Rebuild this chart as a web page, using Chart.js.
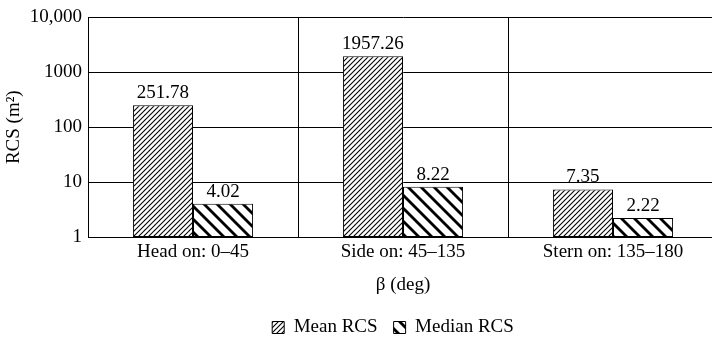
<!DOCTYPE html>
<html>
<head>
<meta charset="utf-8">
<script src="https://cdn.jsdelivr.net/npm/chart.js@4/dist/chart.umd.min.js"></script>
<style>
  html, body { margin: 0; padding: 0; background: #fff; overflow: hidden; }
  #wrap { width: 718px; height: 341px; }
</style>
</head>
<body>
<div id="wrap"><canvas id="rcs-chart"></canvas></div>
<script>
  "use strict";

  const categories = ["Head on: 0–45", "Side on: 45–135", "Stern on: 135–180"];
  const meanRcs = [251.78, 1957.26, 7.35];
  const medianRcs = [4.02, 8.22, 2.22];
  const yTicks = [1, 10, 100, 1000, 10000];
  const yTickLabels = ["1", "10", "100", "1000", "10,000"];

  const FONT = "'Liberation Serif', 'Times New Roman', serif";
  const FS = 19;

  // diagonal hatch tile: dir 1 = "/", dir -1 = "\"
  function makeHatch(period, lineWidth, dir) {
    const c = document.createElement("canvas");
    c.width = period;
    c.height = period;
    const g = c.getContext("2d");
    g.fillStyle = "#fff";
    g.fillRect(0, 0, period, period);
    g.strokeStyle = "#000";
    g.lineWidth = lineWidth;
    g.lineCap = "square";
    for (let k = -1; k <= 1; k++) {
      g.beginPath();
      if (dir > 0) {
        g.moveTo(k * period, period);
        g.lineTo(k * period + period, 0);
      } else {
        g.moveTo(k * period, 0);
        g.lineTo(k * period + period, period);
      }
      g.stroke();
    }
    return g.createPattern(c, "repeat");
  }

  const ctx = document.getElementById("rcs-chart").getContext("2d");
  const meanFill = makeHatch(5, 1.1, 1);
  const medianFill = makeHatch(13, 2.8, -1);

  const valueLabels = {
    id: "valueLabels",
    afterDatasetsDraw(chart) {
      const c = chart.ctx;
      c.save();
      c.font = FS + "px " + FONT;
      c.fillStyle = "#000";
      c.textAlign = "center";
      c.textBaseline = "alphabetic";
      chart.data.datasets.forEach((ds, i) => {
        chart.getDatasetMeta(i).data.forEach((bar, j) => {
          c.fillText(ds.data[j].toFixed(2), bar.x, bar.y - 7);
        });
      });
      c.restore();
    },
  };

  // legend sits a bit right of centre and lower in the original
  const legendShift = {
    id: "legendShift",
    afterLayout(chart) {
      const lg = chart.legend;
      if (!lg) return;
      lg.left += 34;
      lg.right += 34;
      lg.top += 6;
      lg.bottom += 6;
    },
  };

  new Chart(ctx, {
    type: "bar",
    data: {
      labels: categories,
      datasets: [
        {
          label: "Mean RCS",
          data: meanRcs,
          backgroundColor: meanFill,
          borderColor: "#000",
          borderWidth: 1,
          borderSkipped: false,
          categoryPercentage: 0.572,
          barPercentage: 1,
        },
        {
          label: "Median RCS",
          data: medianRcs,
          backgroundColor: medianFill,
          borderColor: "#000",
          borderWidth: 1,
          borderSkipped: false,
          categoryPercentage: 0.572,
          barPercentage: 1,
        },
      ],
    },
    options: {
      responsive: true,
      maintainAspectRatio: false,
      animation: false,
      layout: { padding: { top: 15, right: 0, bottom: 0, left: 0 } },
      plugins: {
        tooltip: { enabled: false },
        legend: {
          position: "bottom",
          labels: {
            boxWidth: 12,
            boxHeight: 12,
            padding: 16,
            color: "#000",
            font: { family: FONT, size: FS },
          },
        },
      },
      scales: {
        x: {
          grid: { color: "#000", lineWidth: 1, drawTicks: false, offset: true },
          border: { color: "#000", width: 1 },
          ticks: { color: "#000", padding: 4, font: { family: FONT, size: FS } },
          title: {
            display: true,
            text: "β (deg)",
            color: "#000",
            padding: { top: 5, bottom: 0 },
            font: { family: FONT, size: FS },
          },
          afterFit(scale) { scale.height = 59; },
        },
        y: {
          type: "logarithmic",
          min: 1,
          max: 10000,
          grid: { color: "#000", lineWidth: 1, drawTicks: false },
          border: { color: "#000", width: 1 },
          afterBuildTicks(scale) {
            scale.ticks = yTicks.map((v) => ({ value: v }));
          },
          ticks: {
            color: "#000",
            padding: 6,
            font: { family: FONT, size: FS },
            callback: (v) => yTickLabels[yTicks.indexOf(v)] || "",
          },
          title: {
            display: true,
            text: "RCS (m²)",
            color: "#000",
            padding: { top: 3, bottom: 0 },
            font: { family: FONT, size: FS },
          },
          afterFit(scale) { scale.width = 88; },
        },
      },
    },
    plugins: [valueLabels, legendShift],
  });
</script>
</body>
</html>
